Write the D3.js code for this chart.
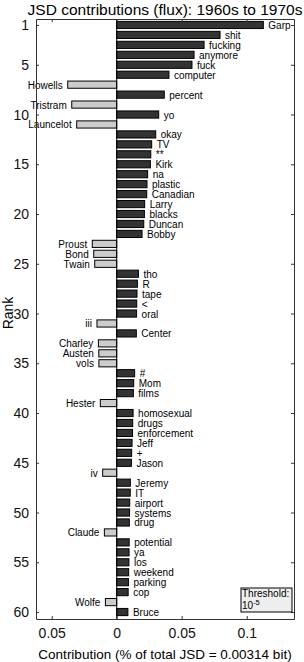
<!doctype html>
<html>

<head>
    <title>JSD contributions</title>
    <script src="https://d3js.org/d3.v7.min.js"></script>
    <style>
        body {
            margin: 0;
            background: white;
        }

        text {
            font-family: 'Liberation Sans', Arial, sans-serif;
        }
    </style>
</head>

<body>
    <div id="my_dataviz"></div>

    <script>
        // words ranked by contribution, rank = index + 1
        var words = ["Garp", "shit", "fucking", "anymore", "fuck", "computer", "Howells", "percent", "Tristram", "yo",
            "Launcelot", "okay", "TV", "**", "Kirk", "na", "plastic", "Canadian", "Larry", "blacks",
            "Duncan", "Bobby", "Proust", "Bond", "Twain", "tho", "R", "tape", "<", "oral",
            "iii", "Center", "Charley", "Austen", "vols", "#", "Mom", "films", "Hester", "homosexual",
            "drugs", "enforcement", "Jeff", "+", "Jason", "iv", "Jeremy", "IT", "airport", "systems",
            "drug", "Claude", "potential", "ya", "los", "weekend", "parking", "cop", "Wolfe", "Bruce"];

        // contribution (% of total JSD), negative = more in 1960s
        var contributions = [0.1128, 0.0795, 0.0672, 0.0595, 0.0579, 0.0402, -0.0377, 0.0366, -0.0346, 0.0323,
            -0.0308, 0.0300, 0.0269, 0.0262, 0.0259, 0.0238, 0.0233, 0.0231, 0.0215, 0.0213,
            0.0208, 0.0195, -0.0188, -0.0177, -0.0169, 0.0167, 0.0159, 0.0156, 0.0154, 0.0153,
            -0.0152, 0.0151, -0.0141, -0.0138, -0.0137, 0.0138, 0.0131, 0.0128, -0.0126, 0.0126,
            0.0123, 0.0122, 0.0118, 0.0115, 0.0113, -0.0108, 0.0105, 0.0104, 0.0100, 0.0099,
            0.0097, -0.0095, 0.0096, 0.0095, 0.0094, 0.0092, 0.0090, 0.0088, -0.0087, 0.0086];

        var rankTicks = [1, 5, 10, 15, 20, 25, 30, 35, 40, 45, 50, 55, 60];
        var xTicks = [-0.05, 0, 0.05, 0.1];

        var data = words.map(function (w, i) {
            return { word: w, rank: i + 1, value: contributions[i] };
        });

        var W = 304, H = 662;
        var margin = { top: 19, right: 10, bottom: 43, left: 36 };

        var svg = d3.select("#my_dataviz")
            .append("svg")
            .attr("width", W)
            .attr("height", H);

        var x = d3.scaleLinear()
            .domain([-0.0621, 0.1364])
            .range([margin.left, W - margin.right]);

        var y = d3.scaleLinear()
            .domain([0.4, 60.7])
            .range([margin.top, H - margin.bottom]);

        var barH = y(1.72) - y(1);

        // title
        svg.append("text")
            .attr("x", (x.range()[0] + x.range()[1]) / 2)
            .attr("y", 15)
            .attr("text-anchor", "middle")
            .style("font-size", "15.5px")
            .text("JSD contributions (flux): 1960s to 1970s");

        // bars
        svg.append("g")
            .selectAll("rect")
            .data(data)
            .enter()
            .append("rect")
            .attr("x", function (d) { return Math.min(x(0), x(d.value)); })
            .attr("y", function (d) { return y(d.rank) - barH / 2; })
            .attr("width", function (d) { return Math.abs(x(d.value) - x(0)); })
            .attr("height", barH)
            .attr("fill", function (d) { return d.value > 0 ? "#333333" : "#cccccc"; })
            .attr("stroke", "#000")
            .attr("stroke-width", 1);

        // word labels
        svg.append("g")
            .selectAll("text")
            .data(data)
            .enter()
            .append("text")
            .attr("x", function (d) { return d.value > 0 ? x(d.value) + 5 : x(d.value) - 5; })
            .attr("y", function (d) { return y(d.rank) + 0.5; })
            .attr("dy", "0.35em")
            .attr("text-anchor", function (d) { return d.value > 0 ? "start" : "end"; })
            .style("font-size", "10px")
            .text(function (d) { return d.word; });

        // zero line
        svg.append("line")
            .attr("x1", x(0)).attr("x2", x(0))
            .attr("y1", y.range()[0]).attr("y2", y.range()[1])
            .attr("stroke", "#000");

        // axes (ticks pointing inward)
        var fmt = function (d) { return d3.format("~g")(Math.abs(d)); };

        svg.append("g")
            .attr("class", "axis")
            .attr("transform", "translate(" + x.range()[0] + ",0)")
            .call(d3.axisLeft(y).tickValues(rankTicks).tickSizeInner(-3).tickSizeOuter(0).tickPadding(7));

        svg.append("g")
            .attr("class", "axis")
            .attr("transform", "translate(" + x.range()[1] + ",0)")
            .call(d3.axisRight(y).tickValues(rankTicks).tickSizeInner(-3).tickSizeOuter(0).tickFormat(""));

        svg.append("g")
            .attr("class", "axis")
            .attr("transform", "translate(0," + y.range()[1] + ")")
            .call(d3.axisBottom(x).tickValues(xTicks).tickSizeInner(-3).tickSizeOuter(0).tickPadding(9).tickFormat(fmt));

        svg.append("g")
            .attr("class", "axis")
            .attr("transform", "translate(0," + y.range()[0] + ")")
            .call(d3.axisTop(x).tickValues(xTicks).tickSizeInner(-3).tickSizeOuter(0).tickFormat(""));

        svg.selectAll(".axis path, .axis line").attr("stroke", "#333");
        svg.selectAll(".axis text")
            .style("font-size", "14px")
            .style("font-family", "'Liberation Sans', Arial, sans-serif")
            .attr("fill", "#111");

        // axis labels
        svg.append("text")
            .attr("transform", "translate(13," + ((y.range()[0] + y.range()[1]) / 2 - 6) + ") rotate(-90)")
            .attr("text-anchor", "middle")
            .style("font-size", "14px")
            .text("Rank");

        svg.append("text")
            .attr("x", (x.range()[0] + x.range()[1]) / 2)
            .attr("y", 659)
            .attr("text-anchor", "middle")
            .style("font-size", "13.5px")
            .text("Contribution (% of total JSD = 0.00314 bit)");

        // threshold box
        var tb = svg.append("g").attr("transform", "translate(241,588)");
        tb.append("rect")
            .attr("width", 51)
            .attr("height", 24)
            .attr("fill", "#eeeeee")
            .attr("stroke", "#000");
        tb.append("text")
            .attr("x", 1)
            .attr("y", 9)
            .style("font-size", "10px")
            .text("Threshold:");
        var t2 = tb.append("text")
            .attr("x", 1)
            .attr("y", 21)
            .style("font-size", "10px")
            .text("10");
        t2.append("tspan")
            .attr("dy", -4)
            .style("font-size", "7.5px")
            .text("-5");
    </script>

</body>

</html>
